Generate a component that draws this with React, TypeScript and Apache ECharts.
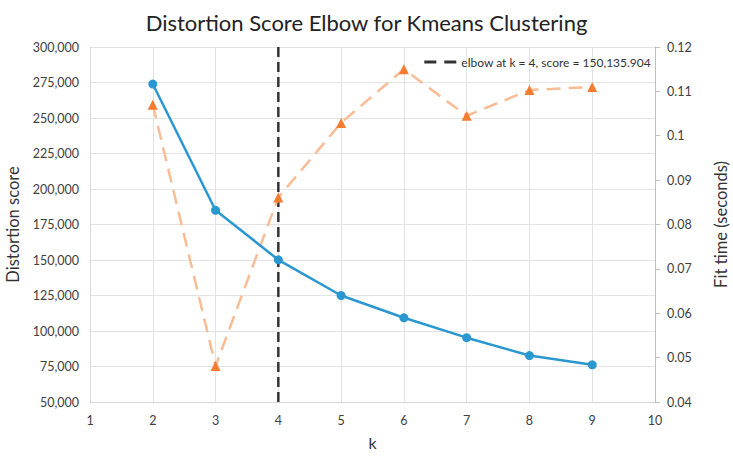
import React, { useEffect, useRef } from "react";
import * as echarts from "echarts";

const kValues = [2, 3, 4, 5, 6, 7, 8, 9];
const distortion = [273900, 185000, 150135.904, 125000, 109300, 95300, 82700, 76200];
const fitTime = [0.107, 0.0481, 0.0861, 0.1029, 0.115, 0.1045, 0.1103, 0.111];
const elbowK = 4;
const elbowScore = 150135.904;
const xRange = [1, 10];
const leftRange = [50000, 300000, 25000];
const rightRange = [0.04, 0.12, 0.01];

const FONT = "Lato";

export default function App() {
  const ref = useRef<HTMLDivElement>(null);
  useEffect(() => {
    if (!ref.current) return;
    const chart = echarts.init(ref.current, undefined, { renderer: "svg" });
    const elbowLabel = `elbow at k = ${elbowK}, score = ${elbowScore.toLocaleString("en-US", {
      minimumFractionDigits: 3,
      maximumFractionDigits: 3,
    })}`;
    const axisText = { color: "#404040", fontFamily: FONT, fontSize: 12.5 };
    chart.setOption({
      animation: false,
      textStyle: { fontFamily: FONT },
      title: {
        text: "Distortion Score Elbow for Kmeans Clustering",
        left: "center",
        top: 6,
        textStyle: { fontFamily: FONT, fontSize: 22, fontWeight: "normal", color: "#222" },
      },
      legend: {
        data: [{ name: elbowLabel, icon: "path://M0,0H12V3H0Z M20,0H32V3H20Z" }],
        right: 82,
        top: 56,
        padding: 0,
        itemWidth: 32,
        itemHeight: 3,
        itemGap: 6,
        itemStyle: { color: "#333333" },
        textStyle: { fontFamily: FONT, fontSize: 12, color: "#333" },
      },
      grid: { left: 90, right: 78, top: 47, bottom: 59, containLabel: false, outerBoundsMode: "none" },
      xAxis: {
        type: "value",
        min: xRange[0],
        max: xRange[1],
        interval: 1,
        name: "k",
        nameLocation: "middle",
        nameGap: 32,
        nameTextStyle: { fontFamily: FONT, fontSize: 16, color: "#333" },
        axisLine: { show: true, lineStyle: { color: "#D9D9D9", width: 1 } },
        axisTick: { show: false },
        axisLabel: { ...axisText, margin: 12 },
        splitLine: { show: true, lineStyle: { color: "#E3E3E3", width: 1 } },
      },
      yAxis: [
        {
          type: "value",
          min: leftRange[0],
          max: leftRange[1],
          interval: leftRange[2],
          name: "Distortion score",
          nameLocation: "middle",
          nameGap: 63,
          nameTextStyle: { fontFamily: FONT, fontSize: 16.5, color: "#333" },
          axisLine: { show: true, lineStyle: { color: "#D9D9D9", width: 1 } },
          axisTick: { show: false },
          axisLabel: {
            ...axisText,
            margin: 11,
            formatter: (v: number) => v.toLocaleString("en-US"),
          },
          splitLine: { show: true, lineStyle: { color: "#E3E3E3", width: 1 } },
        },
        {
          type: "value",
          min: rightRange[0],
          max: rightRange[1],
          interval: rightRange[2],
          position: "right",
          name: "Fit time (seconds)",
          nameLocation: "middle",
          nameGap: 57,
          nameRotate: 90,
          nameTextStyle: { fontFamily: FONT, fontSize: 16.5, color: "#333" },
          axisLine: { show: true, lineStyle: { color: "#BFBFBF", width: 1 } },
          axisTick: { show: true, length: 5, lineStyle: { color: "#BFBFBF" } },
          axisLabel: {
            ...axisText,
            margin: 12,
            formatter: (v: number) => String(Number(v.toFixed(3))),
          },
          splitLine: { show: false },
        },
      ],
      series: [
        {
          name: elbowLabel,
          type: "line",
          yAxisIndex: 0,
          data: [
            [elbowK, leftRange[0]],
            [elbowK, leftRange[1]],
          ],
          symbol: "none",
          lineStyle: { color: "#333333", width: 2.5, type: [10, 5] },
          itemStyle: { color: "#333333" },
          z: 1,
        },
        {
          name: "distortion",
          type: "line",
          yAxisIndex: 0,
          data: kValues.map((k, i) => [k, distortion[i]]),
          symbol: "circle",
          symbolSize: 9,
          lineStyle: { color: "#2B97D0", width: 2.5 },
          itemStyle: { color: "#2B97D0" },
          z: 3,
        },
        {
          name: "fit time",
          type: "line",
          yAxisIndex: 1,
          data: kValues.map((k, i) => [k, fitTime[i]]),
          symbol: "triangle",
          symbolSize: 10,
          lineStyle: { color: "#F9BC94", width: 2.5, type: [14, 8] },
          itemStyle: { color: "#F47B30" },
          z: 2,
        },
      ],
    });
    return () => chart.dispose();
  }, []);
  return (
    <div
      ref={ref}
      style={{ position: "absolute", left: 0, top: 0, width: 733, height: 461, background: "#fff" }}
    />
  );
}
